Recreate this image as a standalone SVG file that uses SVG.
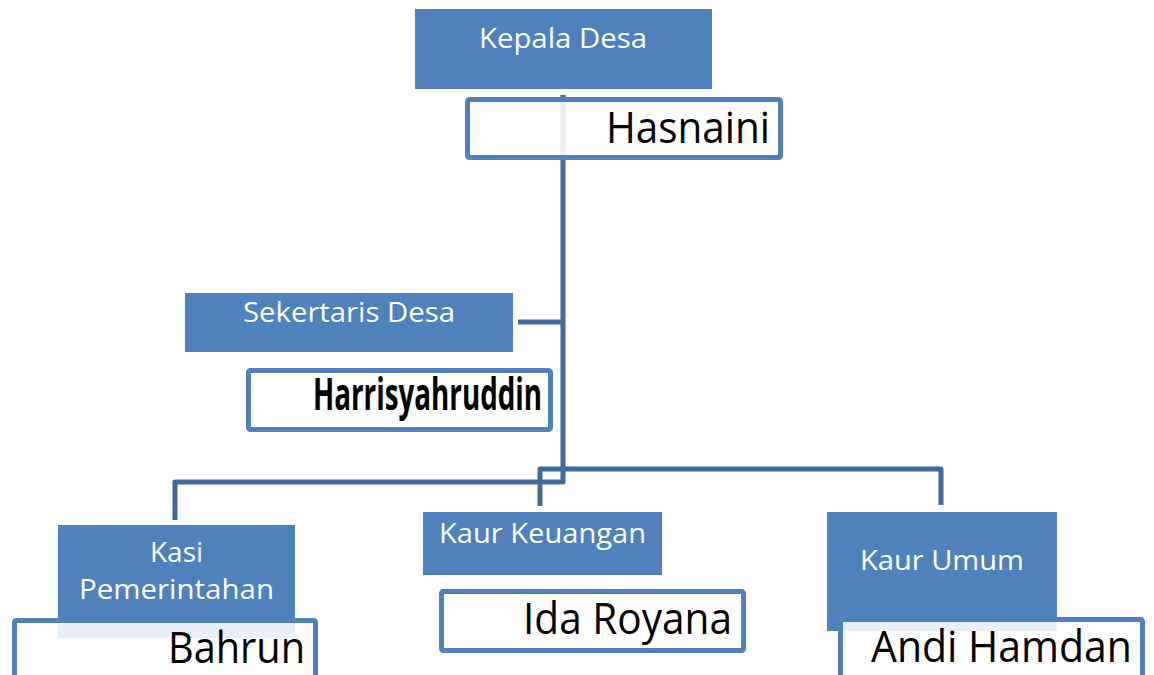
<svg xmlns="http://www.w3.org/2000/svg" width="1154" height="675" viewBox="0 0 1154 675">
<style>
.title{fill:#4F81BD}
.name{fill:#FFFFFF;fill-opacity:0.88;stroke:#4F81BD;stroke-width:5}
.conn{fill:none;stroke:#416A9C;stroke-width:5;stroke-linejoin:round}
.tt{font-family:"Open Sans","Noto Sans",sans-serif;fill:#FFFFFF;font-size:28px}
.nt{font-family:"Open Sans","Noto Sans",sans-serif;fill:#000000;font-size:44px}
</style>
<rect width="1154" height="675" fill="#FFFFFF"/>
<g id="kepala-desa">
<rect class="title" x="415" y="9" width="297" height="80"/>
<text class="tt" x="479" y="48" textLength="168" lengthAdjust="spacingAndGlyphs">Kepala Desa</text>
</g>
<g id="sekertaris-desa">
<rect class="title" x="185" y="293" width="328" height="59"/>
<text class="tt" x="243" y="322" textLength="212" lengthAdjust="spacingAndGlyphs">Sekertaris Desa</text>
</g>
<g id="kasi-pemerintahan">
<rect class="title" x="58" y="525" width="237" height="113"/>
<text class="tt" x="150" y="562" textLength="53" lengthAdjust="spacingAndGlyphs">Kasi</text>
<text class="tt" x="79" y="599" textLength="195" lengthAdjust="spacingAndGlyphs">Pemerintahan</text>
</g>
<g id="kaur-keuangan">
<rect class="title" x="423" y="512" width="239" height="63"/>
<text class="tt" x="439" y="543" textLength="207" lengthAdjust="spacingAndGlyphs">Kaur Keuangan</text>
</g>
<g id="kaur-umum">
<rect class="title" x="827" y="512" width="230" height="119"/>
<text class="tt" x="860" y="570" textLength="164" lengthAdjust="spacingAndGlyphs">Kaur Umum</text>
</g>
<g id="connectors">
<path class="conn" d="M563,95 V482 H175 V520"/>
<path class="conn" d="M518,322 H563"/>
<path class="conn" d="M540,506 V469 H941 V505"/>
</g>
<g id="hasnaini">
<rect class="name" x="467.5" y="99.5" width="313" height="58" rx="2"/>
<text class="nt" x="606" y="143" textLength="164" lengthAdjust="spacingAndGlyphs">Hasnaini</text>
</g>
<g id="harrisyahruddin">
<rect class="name" x="248.5" y="370.5" width="302" height="59" rx="2"/>
<text class="nt" x="313" y="410" font-size="26" font-weight="bold" textLength="229" lengthAdjust="spacingAndGlyphs">Harrisyahruddin</text>
</g>
<g id="bahrun">
<rect class="name" x="14.5" y="620.5" width="301" height="70" rx="2"/>
<text class="nt" x="168" y="663" textLength="137" lengthAdjust="spacingAndGlyphs">Bahrun</text>
</g>
<g id="ida-royana">
<rect class="name" x="441.5" y="591.5" width="302" height="59" rx="2"/>
<text class="nt" x="523" y="634" textLength="209" lengthAdjust="spacingAndGlyphs">Ida Royana</text>
</g>
<g id="andi-hamdan">
<rect class="name" x="840.5" y="619.5" width="302" height="70" rx="2"/>
<text class="nt" x="871" y="662" textLength="261" lengthAdjust="spacingAndGlyphs">Andi Hamdan</text>
</g>
</svg>
